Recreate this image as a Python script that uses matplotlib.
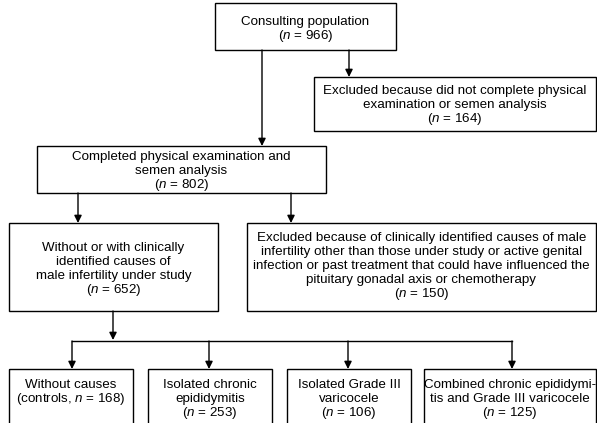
import matplotlib
matplotlib.use("Agg")
import matplotlib.pyplot as plt
from matplotlib.patches import Rectangle

plt.rcParams['font.family'] = ['Liberation Sans', 'DejaVu Sans']
plt.rcParams['mathtext.fontset'] = 'custom'
plt.rcParams['mathtext.rm'] = 'Liberation Sans'
plt.rcParams['mathtext.it'] = 'Liberation Sans:italic'

N = r'$\it{n}$'

# box contents
consulting = ["Consulting population", "(" + N + " = 966)"]
excluded_1 = ["Excluded because did not complete physical",
              "examination or semen analysis", "(" + N + " = 164)"]
completed = ["Completed physical examination and",
             "semen analysis", "(" + N + " = 802)"]
under_study = ["Without or with clinically", "identified causes of",
               "male infertility under study", "(" + N + " = 652)"]
excluded_2 = ["Excluded because of clinically identified causes of male",
              "infertility other than those under study or active genital",
              "infection or past treatment that could have influenced the",
              "pituitary gonadal axis or chemotherapy", "(" + N + " = 150)"]
groups = [["Without causes", "(controls, " + N + " = 168)"],
          ["Isolated chronic", "epididymitis", "(" + N + " = 253)"],
          ["Isolated Grade III", "varicocele", "(" + N + " = 106)"],
          ["Combined chronic epididymi-", "tis and Grade III varicocele",
           "(" + N + " = 125)"]]

# figure in pixel coordinates, y pointing down
W, H = 597, 423
fig = plt.figure(figsize=(W / 100, H / 100), dpi=100)
ax = fig.add_axes([0, 0, 1, 1])
ax.set_xlim(0, W)
ax.set_ylim(H, 0)
ax.axis('off')

LS = 14  # line spacing in px


def box(x0, y0, x1, y1, lines, first):
    # first = y of the first text line
    ax.add_patch(Rectangle((x0, y0), x1 - x0, y1 - y0, fill=False,
                           edgecolor='black', linewidth=1.0))
    cx = (x0 + x1) / 2
    for i, s in enumerate(lines):
        ax.text(cx, first + i * LS, s, ha='center', va='center',
                fontsize=9.6, color='black')


def arrow(x, y0, y1):
    ax.annotate('', xy=(x, y1), xytext=(x, y0),
                arrowprops=dict(arrowstyle='-|>', color='black', lw=1.0,
                                mutation_scale=11, shrinkA=0, shrinkB=0))


box(215, 3, 396, 50, consulting, 22)
box(314, 77, 596, 131, excluded_1, 91)
box(37, 146, 326, 193, completed, 157)
box(9, 223, 218, 311, under_study, 248)
box(247, 223, 596, 311, excluded_2, 238)

arrow(262, 50, 146)
arrow(349, 50, 77)
arrow(78, 193, 223)
arrow(291, 193, 223)
arrow(113, 311, 340)

gx = [(9, 133), (148, 272), (287, 411), (424, 596)]
ax_x = [72, 209, 348, 512]
ax.plot([ax_x[0], ax_x[-1]], [341, 341], color='black', lw=1.0)
for (x0, x1), xa, lines in zip(gx, ax_x, groups):
    arrow(xa, 341, 369)
    box(x0, 369, x1, 440, lines, 385)

fig.savefig('out.png', dpi=100)
